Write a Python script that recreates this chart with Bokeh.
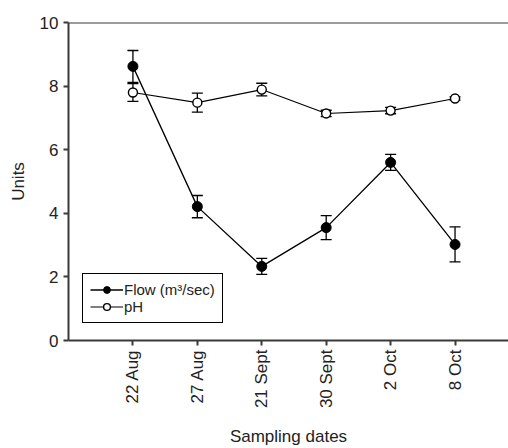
import math
from bokeh.plotting import figure
from bokeh.models import ColumnDataSource, Whisker, TeeHead, FixedTicker, Span, Legend, LegendItem
from bokeh.embed import file_html
from bokeh.resources import INLINE

dates = ["22 Aug", "27 Aug", "21 Sept", "30 Sept", "2 Oct", "8 Oct"]
flow = [8.62, 4.21, 2.33, 3.55, 5.6, 3.02]
flow_err = [0.5, 0.35, 0.25, 0.38, 0.25, 0.55]
ph = [7.8, 7.48, 7.89, 7.14, 7.23, 7.61]
ph_err = [0.28, 0.3, 0.2, 0.1, 0.1, 0.05]

xs = list(range(1, len(dates) + 1))
FONT = "Liberation Sans"
INK = "#3a3a3a"
TXT = "#222222"

p = figure(frame_width=440, frame_height=318, output_backend="svg", toolbar_location=None,
           x_range=(0, 6.83), y_range=(0, 10),
           min_border_left=68, min_border_right=0, min_border_top=22, min_border_bottom=0)
p.outline_line_color = None
p.grid.visible = False
p.background_fill_color = "white"

fsrc = ColumnDataSource(dict(x=xs, y=flow,
                             lo=[v - e for v, e in zip(flow, flow_err)],
                             hi=[v + e for v, e in zip(flow, flow_err)]))
psrc = ColumnDataSource(dict(x=xs, y=ph,
                             lo=[v - e for v, e in zip(ph, ph_err)],
                             hi=[v + e for v, e in zip(ph, ph_err)]))

for src in (fsrc, psrc):
    w = Whisker(source=src, base="x", lower="lo", upper="hi",
                line_color="black", line_width=1.3,
                upper_head=TeeHead(size=11, line_color="black", line_width=1.3),
                lower_head=TeeHead(size=11, line_color="black", line_width=1.3))
    p.add_layout(w)

fl = p.line("x", "y", source=fsrc, line_color="black", line_width=1.3)
fm = p.scatter("x", "y", source=fsrc, marker="circle", size=10,
               fill_color="black", line_color="black")
pl = p.line("x", "y", source=psrc, line_color="black", line_width=1.1)
pm = p.scatter("x", "y", source=psrc, marker="circle", size=9,
               fill_color="white", line_color="black", line_width=1.4)

legend = Legend(items=[LegendItem(label="Flow (m³/sec)", renderers=[fl, fm]),
                       LegendItem(label="pH", renderers=[pl, pm])],
                location=(14, 17))
legend.label_text_font = FONT
legend.label_text_font_size = "15px"
legend.label_height = 17
legend.glyph_height = 17
legend.glyph_width = 33
legend.spacing = 0
legend.padding = 7
legend.margin = 0
legend.label_standoff = 1
legend.label_text_color = TXT
legend.border_line_color = "black"
legend.border_line_width = 1.5
legend.border_line_alpha = 1
legend.background_fill_alpha = 1
p.add_layout(legend, "center")

p.add_layout(Span(location=10, dimension="width", line_color=INK, line_width=2))

p.yaxis.ticker = FixedTicker(ticks=[0, 2, 4, 6, 8, 10])
p.xaxis.ticker = FixedTicker(ticks=xs)
p.xaxis.major_label_overrides = {x: d for x, d in zip(xs, dates)}
p.xaxis.major_label_orientation = math.pi / 2
p.yaxis.minor_tick_line_color = None
p.xaxis.minor_tick_line_color = None

for ax in (p.xaxis, p.yaxis):
    ax.axis_line_color = INK
    ax.axis_line_width = 2
    ax.major_tick_line_color = INK
    ax.major_tick_line_width = 2
    ax.major_tick_out = 5
    ax.major_tick_in = 0
    ax.major_label_text_font = FONT
    ax.major_label_text_font_size = "17px"
    ax.major_label_text_color = TXT
    ax.axis_label_text_font = FONT
    ax.axis_label_text_font_size = "17px"
    ax.axis_label_text_font_style = "normal"
    ax.axis_label_text_color = TXT

p.yaxis.axis_label = "Units"
p.yaxis.major_label_standoff = 5
p.yaxis.axis_label_standoff = 9
p.xaxis.axis_label = "Sampling dates"
p.xaxis.major_label_standoff = 4
p.xaxis.axis_label_standoff = 16

open("out.html", "w").write(file_html(p, INLINE))
